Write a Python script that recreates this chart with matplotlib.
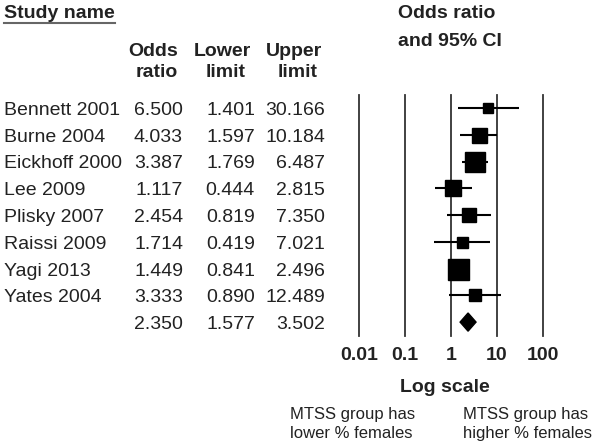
import numpy as np
import matplotlib.pyplot as plt
from matplotlib.ticker import NullLocator

plt.rcParams['font.family'] = ['Liberation Sans', 'DejaVu Sans']

studies = ['Bennett 2001', 'Burne 2004', 'Eickhoff 2000', 'Lee 2009',
           'Plisky 2007', 'Raissi 2009', 'Yagi 2013', 'Yates 2004']
odds = [6.500, 4.033, 3.387, 1.117, 2.454, 1.714, 1.449, 3.333]
lower = [1.401, 1.597, 1.769, 0.444, 0.819, 0.419, 0.841, 0.890]
upper = [30.166, 10.184, 6.487, 2.815, 7.350, 7.021, 2.496, 12.489]
# relative study weight
weight = [10, 15, 20, 16, 14, 11, 21, 12]

pooled = 2.350
pooled_lo = 1.577
pooled_hi = 3.502

ticks = [0.01, 0.1, 1, 10, 100]
tick_labels = ['0.01', '0.1', '1', '10', '100']

txt = '#222222'
ln = '#333333'

fig = plt.figure(figsize=(6, 4.46), dpi=100)

# pixel canvas for the table part
bg = fig.add_axes([0, 0, 1, 1])
bg.set_xlim(0, 600)
bg.set_ylim(446, 0)
bg.axis('off')

fs = 14
bg.text(4, 18.5, 'Study name', fontsize=fs, fontweight='bold', color=txt)
bg.plot([4, 115], [23, 23], color='#666666', lw=1.5)

heads = [('Odds', 153, 56), ('ratio', 157, 77), ('Lower', 222.5, 56),
         ('limit', 226, 77), ('Upper', 294, 56), ('limit', 297.5, 77)]
for s, x, y in heads:
    bg.text(x, y, s, fontsize=fs, fontweight='bold', color=txt, ha='center')

bg.text(398, 18.3, 'Odds ratio', fontsize=fs, fontweight='bold', color=txt)
bg.text(398, 46, 'and 95% CI', fontsize=fs, fontweight='bold', color=txt)

row0 = 108
step = 26.75
names = studies + ['']
ors = odds + [pooled]
los = lower + [pooled_lo]
his = upper + [pooled_hi]
for i in range(len(names)):
    yb = row0 + i * step + 7
    bg.text(4, yb, names[i], fontsize=fs, color=txt)
    bg.text(183, yb, '%.3f' % ors[i], fontsize=fs, color=txt, ha='right')
    bg.text(255, yb, '%.3f' % los[i], fontsize=fs, color=txt, ha='right')
    bg.text(325, yb, '%.3f' % his[i], fontsize=fs, color=txt, ha='right')

bg.text(445, 392, 'Log scale', fontsize=fs, fontweight='bold', color=txt, ha='center')
bg.text(290, 419, 'MTSS group has', fontsize=12, color=txt)
bg.text(290, 438, 'lower % females', fontsize=12, color=txt)
bg.text(463, 419, 'MTSS group has', fontsize=12, color=txt)
bg.text(463, 438, 'higher % females', fontsize=12, color=txt)

# forest plot
ax = fig.add_axes([359 / 600, 1 - 336 / 446, 184 / 600, 241 / 446])
ax.patch.set_visible(False)
ax.set_xscale('log')
ax.set_xlim(0.01, 100)
ax.set_ylim(8.52, -0.486)
for t in ticks:
    ax.axvline(t, color=ln, lw=1.3, zorder=1, clip_on=False)

rows = np.arange(len(studies))
ax.hlines(rows, lower, upper, color='black', lw=1.5, zorder=2)
for i in rows:
    ax.plot(odds[i], i, 's', ms=weight[i] * 0.72, color='black', zorder=3)

yd = len(studies)
ax.fill([pooled_lo, pooled, pooled_hi, pooled],
        [yd, yd - 0.34, yd, yd + 0.34], color='black', zorder=3)

ax.set_xticks(ticks)
ax.set_xticklabels(tick_labels, fontsize=fs, fontweight='bold', color=txt)
ax.xaxis.set_minor_locator(NullLocator())
ax.tick_params(axis='x', length=0, pad=8)
ax.set_yticks([])
for sp in ax.spines.values():
    sp.set_visible(False)

plt.savefig('out.png', dpi=100)
